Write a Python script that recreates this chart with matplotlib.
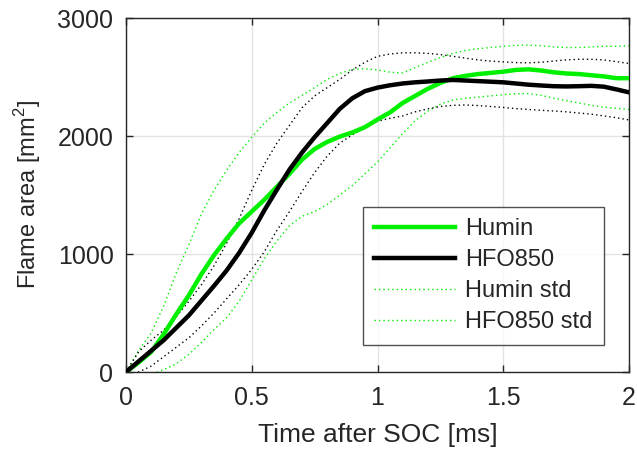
import matplotlib
matplotlib.use("Agg")
import matplotlib.pyplot as plt
import numpy as np

plt.rcParams['font.family'] = ['Liberation Sans', 'DejaVu Sans']
plt.rcParams['mathtext.fontset'] = 'custom'
plt.rcParams['mathtext.rm'] = 'Liberation Sans'

#%% Data
t = np.round(np.arange(0, 2.0001, 0.05), 2)

humin = [0, 80, 170, 320, 490, 650, 830, 990, 1130, 1260,
         1360, 1460, 1570, 1680, 1800, 1890, 1950, 1995, 2030, 2075,
         2140, 2200, 2280, 2340, 2400, 2450, 2490, 2510, 2525, 2535,
         2545, 2560, 2565, 2555, 2540, 2530, 2525, 2515, 2505, 2490, 2490]

hfo850 = [0, 90, 180, 270, 375, 480, 605, 730, 860, 1010,
          1180, 1370, 1545, 1715, 1860, 1990, 2110, 2230, 2320, 2380,
          2410, 2430, 2445, 2455, 2462, 2470, 2475, 2470, 2465, 2460,
          2455, 2445, 2435, 2428, 2422, 2420, 2422, 2425, 2418, 2395, 2370]

humin_up = [0, 180, 330, 560, 840, 1080, 1340, 1540, 1710, 1860,
            1990, 2110, 2200, 2280, 2345, 2410, 2480, 2530, 2565, 2570,
            2560, 2540, 2535, 2580, 2625, 2665, 2700, 2725, 2740, 2750,
            2760, 2768, 2770, 2765, 2755, 2750, 2750, 2755, 2760, 2760, 2765]

humin_lo = [-150, -80, -20, 20, 70, 150, 250, 360, 460, 600,
            780, 960, 1110, 1240, 1320, 1360, 1420, 1500, 1580, 1680,
            1780, 1900, 2020, 2130, 2210, 2270, 2305, 2320, 2330, 2340,
            2350, 2358, 2360, 2345, 2320, 2300, 2280, 2260, 2245, 2235, 2225]

hfo_up = [0, 170, 270, 355, 470, 600, 740, 900, 1090, 1300,
          1540, 1760, 1940, 2090, 2240, 2340, 2410, 2480, 2560, 2625,
          2675, 2695, 2705, 2705, 2700, 2690, 2675, 2660, 2645, 2635,
          2628, 2622, 2620, 2625, 2635, 2645, 2650, 2650, 2645, 2630, 2615]

hfo_lo = [-50, 0, 50, 130, 210, 290, 390, 500, 620, 740,
          870, 1020, 1200, 1360, 1530, 1690, 1830, 1940, 2010, 2070,
          2125, 2150, 2170, 2205, 2230, 2250, 2260, 2263, 2258, 2250,
          2242, 2232, 2225, 2218, 2212, 2205, 2195, 2185, 2170, 2155, 2136]

green = '#00f000'
txt = '#262626'

fig = plt.figure(figsize=(6.37, 4.55), dpi=100)
ax = fig.add_axes([126/637, 83/455, 503/637, 354/455])

# Main curves
ax.plot(t, humin, color=green, lw=3.2, label='Humin', zorder=4)
ax.plot(t, hfo850, color='black', lw=3.2, label='HFO850', zorder=4)
# Std bands (dotted)
dots = (1, 2.2)
ax.plot(t, humin_up, color=green, lw=1, dashes=dots, label='Humin std')
ax.plot(t, humin_lo, color=green, lw=1, dashes=dots, label='HFO850 std')
ax.plot(t, hfo_up, color='black', lw=1, dashes=dots)
ax.plot(t, hfo_lo, color='black', lw=1, dashes=dots)

ax.set_xlim(0, 2)
ax.set_ylim(0, 3000)
ax.set_xticks([0, 0.5, 1, 1.5, 2])
ax.set_xticklabels(['0', '0.5', '1', '1.5', '2'])
ax.set_yticks([0, 1000, 2000, 3000])
ax.grid(True, color='#e3e3e3', lw=1)
ax.set_axisbelow(True)
ax.tick_params(direction='in', length=5, width=1, colors=txt, labelsize=18,
               top=True, right=True)
ax.tick_params(axis='x', pad=10)
ax.tick_params(axis='y', pad=9)
for s in ax.spines.values():
    s.set_color('#262626')
    s.set_linewidth(1)

ax.set_xlabel('Time after SOC [ms]', fontsize=19, color=txt)
ax.xaxis.set_label_coords(0.5, -0.143)
ax.set_ylabel(r'Flame area [mm$^2$]', fontsize=17, color=txt)
ax.yaxis.set_label_coords(-0.165, 0.5)

leg = ax.legend(loc='lower right', bbox_to_anchor=(0.95, 0.076), fontsize=17,
                frameon=True, fancybox=False, handlelength=3.4, handletextpad=0.42,
                labelspacing=0.38, borderpad=0.5, borderaxespad=0)
leg.get_frame().set_edgecolor('#262626')
leg.get_frame().set_linewidth(1)
for tx in leg.get_texts():
    tx.set_color(txt)

fig.savefig('out.png', dpi=100)
